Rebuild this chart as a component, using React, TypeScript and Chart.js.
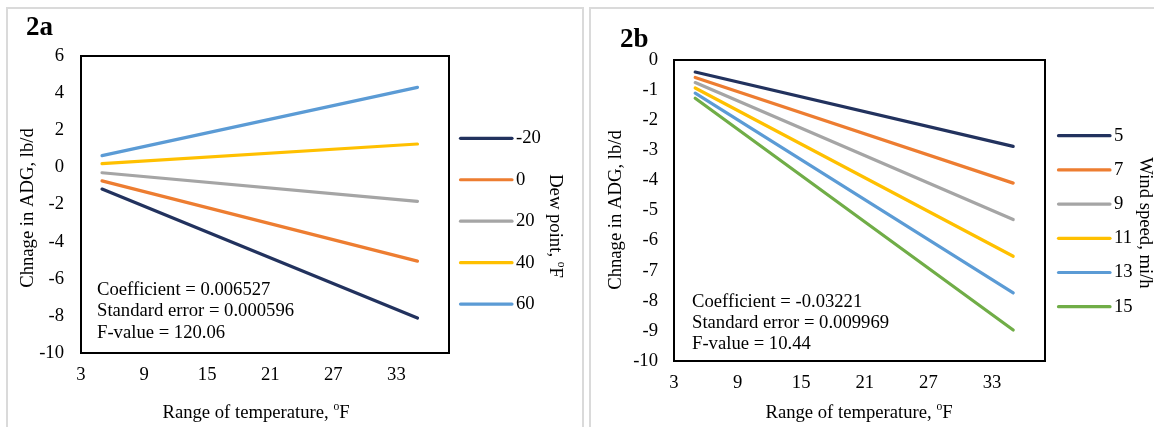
import React, { useEffect, useRef } from "react";
import { Chart, registerables } from "chart.js";

Chart.register(...registerables);

// ---------- data ----------
const tempRange = [5, 35];
const xTicks = [3, 9, 15, 21, 27, 33];

const dewLabels = ["-20", "0", "20", "40", "60"];
const dewM20 = [-1.17, -8.12];
const dew0 = [-0.73, -5.05];
const dew20 = [-0.29, -1.83];
const dew40 = [0.2, 1.26];
const dew60 = [0.63, 4.31];

const windLabels = ["5", "7", "9", "11", "13", "15"];
const wind5 = [-0.4, -2.87];
const wind7 = [-0.58, -4.09];
const wind9 = [-0.75, -5.3];
const wind11 = [-0.93, -6.52];
const wind13 = [-1.1, -7.74];
const wind15 = [-1.27, -8.97];

const statsA = ["Coefficient = 0.006527", "Standard error = 0.000596", "F-value = 120.06"];
const statsB = ["Coefficient = -0.03221", "Standard error = 0.009969", "F-value = 10.44"];

const yTitle = "Chnage in ADG, lb/d";
const xTitle = "Range of temperature, ºF";
const dewTitle = "Dew point, ºF";
const windTitle = "Wind speed, mi/h";

const colorsA = ["#22325E", "#ED7D31", "#A5A5A5", "#FFC000", "#5B9BD5"];
const colorsB = ["#22325E", "#ED7D31", "#A5A5A5", "#FFC000", "#5B9BD5", "#70AD47"];

const FONT = '"Liberation Serif", "Times New Roman", serif';
const FS = 18.67;

type Panel = {
  tag: string;
  tagX: number;
  tagY: number;
  canvasLeft: number;
  canvasWidth: number;
  area: { l: number; t: number; r: number; b: number };
  yMin: number;
  yMax: number;
  yStep: number;
  yPad: number;
  series: number[][];
  labels: string[];
  colors: string[];
  legendX: number;
  legendY0: number;
  legendDy: number;
  legendTitle: string;
  legendTitleX: number;
  legendTitleY: number;
  yTitleX: number;
  yTitleY: number;
  xTitleX: number;
  xTitleY: number;
  stats: string[];
  statsX: number;
  statsY0: number;
  statsDy: number;
};

const panelA: Panel = {
  tag: "2a",
  tagX: 26,
  tagY: 35,
  canvasLeft: 0,
  canvasWidth: 586,
  area: { l: 81, t: 56, r: 449, b: 353 },
  yMin: -10,
  yMax: 6,
  yStep: 2,
  yPad: 17,
  series: [dewM20, dew0, dew20, dew40, dew60],
  labels: dewLabels,
  colors: colorsA,
  legendX: 459,
  legendY0: 138.3,
  legendDy: 41.45,
  legendTitle: dewTitle,
  legendTitleX: 555,
  legendTitleY: 226,
  yTitleX: 28,
  yTitleY: 208,
  xTitleX: 256,
  xTitleY: 413,
  stats: statsA,
  statsX: 97,
  statsY0: 290,
  statsDy: 21.5,
};

const panelB: Panel = {
  tag: "2b",
  tagX: 620,
  tagY: 47,
  canvasLeft: 586,
  canvasWidth: 568,
  area: { l: 674, t: 60, r: 1045, b: 361 },
  yMin: -10,
  yMax: 0,
  yStep: 1,
  yPad: 16,
  series: [wind5, wind7, wind9, wind11, wind13, wind15],
  labels: windLabels,
  colors: colorsB,
  legendX: 1057,
  legendY0: 135.7,
  legendDy: 34.2,
  legendTitle: windTitle,
  legendTitleX: 1145,
  legendTitleY: 223,
  yTitleX: 616,
  yTitleY: 210,
  xTitleX: 859,
  xTitleY: 413,
  stats: statsB,
  statsX: 692,
  statsY0: 302,
  statsDy: 21,
};

function drawSupText(
  ctx: CanvasRenderingContext2D,
  text: string,
  x: number,
  y: number,
  align: "left" | "center"
) {
  const parts = text.split("º");
  const segs: { s: string; f: string; dy: number }[] = [];
  parts.forEach((p, i) => {
    if (i > 0) segs.push({ s: "o", f: `${FS * 0.62}px ${FONT}`, dy: -FS * 0.33 });
    segs.push({ s: p, f: `${FS}px ${FONT}`, dy: 0 });
  });
  let total = 0;
  for (const sg of segs) {
    ctx.font = sg.f;
    total += ctx.measureText(sg.s).width;
  }
  let cx = align === "center" ? x - total / 2 : x;
  ctx.textAlign = "left";
  ctx.textBaseline = "middle";
  for (const sg of segs) {
    ctx.font = sg.f;
    ctx.fillText(sg.s, cx, y + sg.dy);
    cx += ctx.measureText(sg.s).width;
  }
}

function makeDecor(p: Panel) {
  return {
    id: "decor" + p.tag,
    afterDatasetsDraw(chart: any) {
      const ctx: CanvasRenderingContext2D = chart.ctx;
      const ca = chart.chartArea;
      const off = p.canvasLeft;
      ctx.save();
      // frame
      ctx.strokeStyle = "#000";
      ctx.lineWidth = 2;
      ctx.strokeRect(ca.left, ca.top, ca.right - ca.left, ca.bottom - ca.top);
      ctx.fillStyle = "#000";
      // tag
      ctx.font = `bold 27px ${FONT}`;
      ctx.textAlign = "left";
      ctx.textBaseline = "alphabetic";
      ctx.fillText(p.tag, p.tagX - off, p.tagY);
      // y title
      ctx.save();
      ctx.translate(p.yTitleX - off, p.yTitleY);
      ctx.rotate(-Math.PI / 2);
      ctx.font = `${FS}px ${FONT}`;
      ctx.textAlign = "center";
      ctx.textBaseline = "middle";
      ctx.fillText(yTitle, 0, 0);
      ctx.restore();
      // x title
      drawSupText(ctx, xTitle, p.xTitleX - off, p.xTitleY, "center");
      // stats
      ctx.font = `${FS}px ${FONT}`;
      ctx.textAlign = "left";
      ctx.textBaseline = "middle";
      p.stats.forEach((s, i) => ctx.fillText(s, p.statsX - off, p.statsY0 + i * p.statsDy));
      // legend
      p.labels.forEach((lab, i) => {
        const y = p.legendY0 + i * p.legendDy;
        ctx.strokeStyle = p.colors[i];
        ctx.lineWidth = 3.2;
        ctx.lineCap = "round";
        ctx.beginPath();
        ctx.moveTo(p.legendX - off + 1.5, y);
        ctx.lineTo(p.legendX - off + 53, y);
        ctx.stroke();
        ctx.fillStyle = "#000";
        ctx.font = `${FS}px ${FONT}`;
        ctx.textAlign = "left";
        ctx.textBaseline = "middle";
        ctx.fillText(lab, p.legendX - off + 57, y);
      });
      // legend title, rotated clockwise
      ctx.save();
      ctx.translate(p.legendTitleX - off, p.legendTitleY);
      ctx.rotate(Math.PI / 2);
      drawSupText(ctx, p.legendTitle, 0, 0, "center");
      ctx.restore();
      ctx.restore();
    },
  };
}

function PanelChart({ p }: { p: Panel }) {
  const ref = useRef<HTMLCanvasElement>(null);
  useEffect(() => {
    if (!ref.current) return;
    const H = 427;
    const chart = new Chart(ref.current, {
      type: "line",
      data: {
        datasets: p.series.map((ys, i) => ({
          label: p.labels[i],
          data: tempRange.map((x, j) => ({ x, y: ys[j] })),
          borderColor: p.colors[i],
          backgroundColor: p.colors[i],
          borderWidth: 3.2,
          borderCapStyle: "round" as const,
          pointRadius: 0,
          tension: 0,
          fill: false,
        })),
      },
      options: {
        animation: false,
        responsive: false,
        devicePixelRatio: 1,
        events: [],
        layout: {
          padding: {
            left: 0,
            top: p.area.t,
            right: p.canvasWidth - (p.area.r - p.canvasLeft),
            bottom: 0,
          },
        },
        plugins: { legend: { display: false }, tooltip: { enabled: false } },
        scales: {
          x: {
            type: "linear",
            min: 3,
            max: 38,
            grid: { display: false, drawTicks: false, tickLength: 0 },
            border: { display: false },
            ticks: {
              padding: 11,
              color: "#000",
              font: { family: FONT, size: FS },
              maxRotation: 0,
              autoSkip: false,
              callback: (v: any) => String(v),
            },
            afterBuildTicks: (scale: any) => {
              scale.ticks = xTicks.map((v) => ({ value: v }));
            },
            afterFit: (scale: any) => {
              scale.height = H - p.area.b;
            },
          },
          y: {
            type: "linear",
            min: p.yMin,
            max: p.yMax,
            grid: { display: false, drawTicks: false, tickLength: 0 },
            border: { display: false },
            ticks: {
              stepSize: p.yStep,
              padding: p.yPad,
              color: "#000",
              font: { family: FONT, size: FS },
              callback: (v: any) => String(v),
            },
            afterFit: (scale: any) => {
              scale.width = p.area.l - p.canvasLeft;
            },
          },
        },
      },
      plugins: [makeDecor(p)],
    });
    return () => chart.destroy();
  }, [p]);
  return (
    <canvas
      ref={ref}
      width={p.canvasWidth}
      height={427}
      style={{
        position: "absolute",
        left: p.canvasLeft,
        top: 0,
        width: p.canvasWidth,
        height: 427,
      }}
    />
  );
}

export default function App() {
  return (
    <div
      style={{
        position: "fixed",
        left: 0,
        top: 0,
        width: 1154,
        height: 427,
        background: "#fff",
        overflow: "hidden",
      }}
    >
      <div
        style={{
          position: "absolute",
          left: 6,
          top: 6.5,
          width: 578,
          height: 440,
          border: "2px solid #dadada",
          boxSizing: "border-box",
        }}
      />
      <div
        style={{
          position: "absolute",
          left: 588.5,
          top: 6.5,
          width: 600,
          height: 440,
          border: "2px solid #dadada",
          boxSizing: "border-box",
        }}
      />
      <PanelChart p={panelA} />
      <PanelChart p={panelB} />
    </div>
  );
}
